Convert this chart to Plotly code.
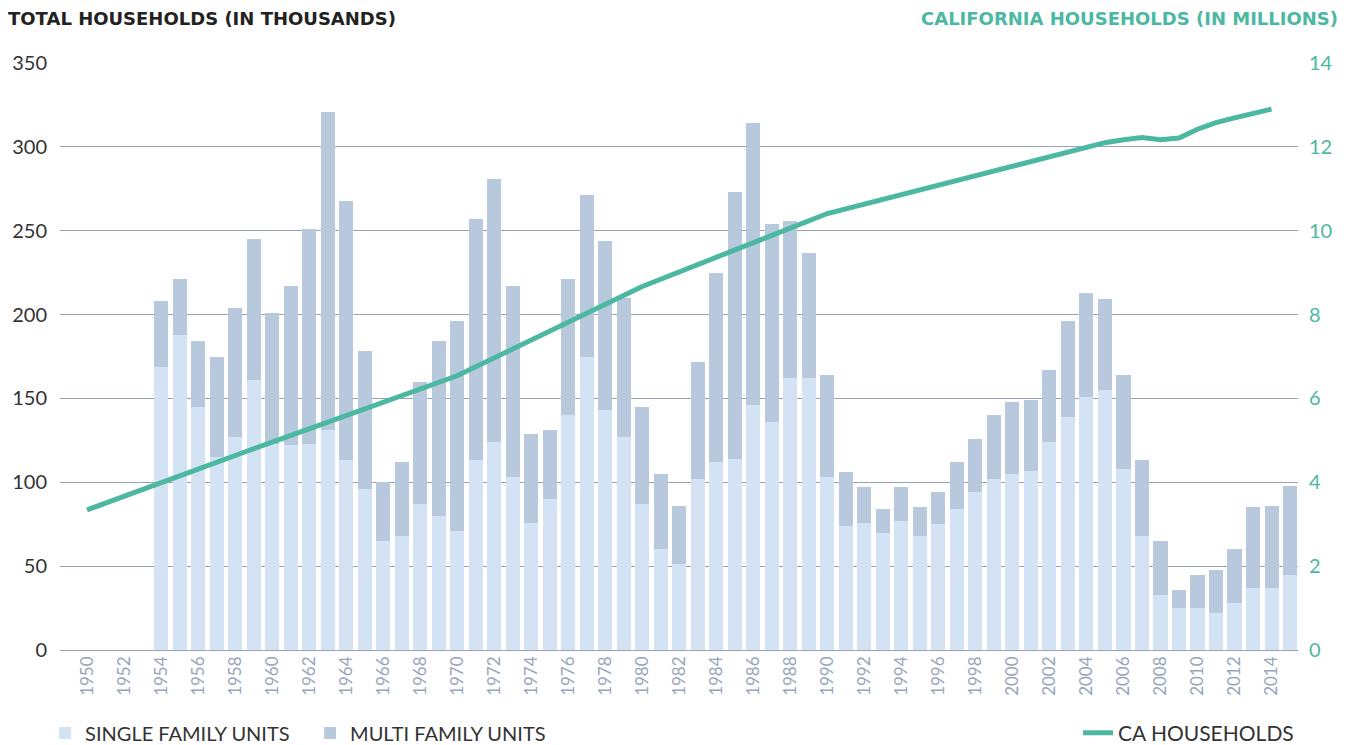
import plotly.graph_objects as go

years = list(range(1950, 2016))

single_family = [None, None, None, None,
                 169, 188, 145, 115, 127, 161, 123, 122, 123, 131, 113, 96,
                 65, 68, 87, 80, 71, 113, 124, 103, 76, 90, 140, 175, 143, 127,
                 87, 60, 51, 102, 112, 114, 146, 136, 162, 162, 103, 74, 76, 70,
                 77, 68, 75, 84, 94, 102, 105, 107, 124, 139, 151, 155, 108, 68,
                 33, 25, 25, 22, 28, 37, 37, 45]
total_units = [None, None, None, None,
               208, 221, 184, 175, 204, 245, 201, 217, 251, 321, 268, 178,
               100, 112, 160, 184, 196, 257, 281, 217, 129, 131, 221, 271, 244, 210,
               145, 105, 86, 172, 225, 273, 314, 254, 256, 237, 164, 106, 97, 84,
               97, 85, 94, 112, 126, 140, 148, 149, 167, 196, 213, 209, 164, 113,
               65, 36, 45, 48, 60, 85, 86, 98]
multi_family = [None if t is None else t - s for t, s in zip(total_units, single_family)]

ca_years = [1950, 1960, 1970, 1980, 1990, 2000, 2005, 2006, 2007, 2008,
            2009, 2010, 2011, 2012, 2013, 2014]
ca_households = [3.34, 4.96, 6.54, 8.67, 10.41, 11.53, 12.10, 12.17, 12.22, 12.17,
                 12.21, 12.42, 12.58, 12.69, 12.80, 12.90]

tick_years = list(range(1950, 2015, 2))

LIGHT = "#d3e3f3"
DARK = "#b8c9dd"
TEAL = "#4cb8a2"
GRID = "#98a3b3"

fig = go.Figure()
fig.add_trace(go.Bar(x=years, y=single_family, name="SINGLE FAMILY UNITS",
                     marker=dict(color=LIGHT, line=dict(width=0)), legend="legend"))
fig.add_trace(go.Bar(x=years, y=multi_family, name="MULTI FAMILY UNITS",
                     marker=dict(color=DARK, line=dict(width=0)), legend="legend"))
fig.add_trace(go.Scatter(x=ca_years, y=ca_households, name="CA HOUSEHOLDS", yaxis="y2",
                         mode="lines", line=dict(color=TEAL, width=5),
                         legend="legend2"))

fig.update_layout(
    width=1343, height=737,
    margin=dict(l=52, r=53, t=55, b=95, autoexpand=False),
    paper_bgcolor="white", plot_bgcolor="white",
    barmode="stack", bargap=0.24,
    font=dict(family="Lato, sans-serif"),
    xaxis=dict(range=[1948.54, 2015.43], tickmode="array", tickvals=tick_years,
               ticktext=[str(y) for y in tick_years], tickangle=-90,
               tickfont=dict(size=17, color="#97a6ba", family="Lato"),
               showgrid=False, zeroline=False, showline=False, ticks="",
               ticklabelstandoff=2, automargin=False),
    yaxis=dict(range=[0, 350], dtick=50, showgrid=True, gridcolor=GRID, gridwidth=1,
               zeroline=True, zerolinecolor=GRID, zerolinewidth=1,
               tickfont=dict(size=20, color="#333333", family="Lato"),
               ticklabelstandoff=12, automargin=False),
    yaxis2=dict(range=[0, 14], dtick=2, overlaying="y", side="right", showgrid=False,
                zeroline=False, tickfont=dict(size=20, color=TEAL, family="Lato"),
                ticklabelstandoff=10, automargin=False),
    legend=dict(orientation="h", xref="container", x=0.0276, xanchor="left",
                yref="container", y=0.0163, yanchor="middle",
                font=dict(size=20, color="#333333", family="Lato"),
                traceorder="normal", entrywidth=220, bgcolor="rgba(0,0,0,0)"),
    legend2=dict(orientation="h", xref="container", x=0.9613, xanchor="right",
                 yref="container", y=0.0163, yanchor="middle",
                 font=dict(size=21, color="#333333", family="Lato"),
                 bgcolor="rgba(0,0,0,0)"),
    annotations=[
        dict(text="<b>TOTAL HOUSEHOLDS (IN THOUSANDS)</b>", xref="paper", yref="paper",
             x=-0.0435, y=1.0, xanchor="left", yanchor="middle", yshift=45,
             showarrow=False, font=dict(size=18, color="#222222", family="DejaVu Sans")),
        dict(text="<b>CALIFORNIA HOUSEHOLDS (IN MILLIONS)</b>", xref="paper", yref="paper",
             x=1.034, y=1.0, xanchor="right", yanchor="middle", yshift=45,
             showarrow=False, font=dict(size=18, color=TEAL, family="DejaVu Sans")),
    ],
)

fig.write_html("out.html")
